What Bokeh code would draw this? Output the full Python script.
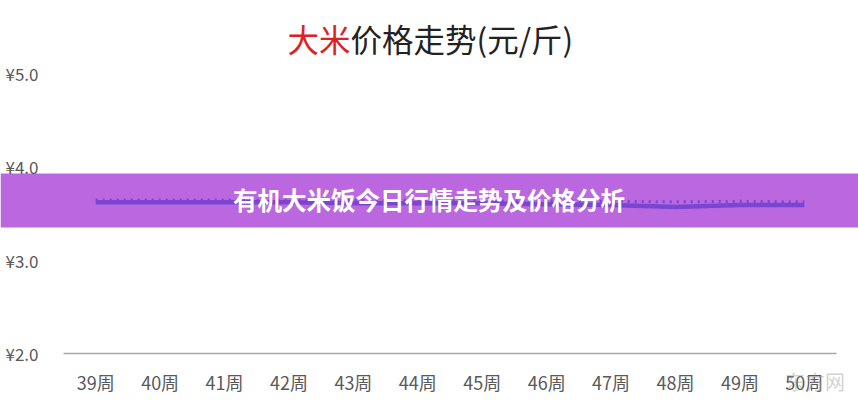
from bokeh.plotting import figure
from bokeh.models import Label, BoxAnnotation, ColumnDataSource, Range1d, FixedTicker
from bokeh.embed import file_html
from bokeh.resources import INLINE

weeks = ["39周", "40周", "41周", "42周", "43周", "44周", "45周", "46周", "47周", "48周", "49周", "50周"]
price_main = [3.62, 3.62, 3.62, 3.62, 3.61, 3.61, 3.61, 3.60, 3.59, 3.57, 3.59, 3.59]
price_dotted = [3.645, 3.645, 3.645, 3.64, 3.64, 3.64, 3.635, 3.635, 3.63, 3.625, 3.63, 3.625]
y_ticks = [2, 3, 4, 5]
y_tick_labels = ["¥2.0", "¥3.0", "¥4.0", "¥5.0"]
title_red = "大米"
title_black = "价格走势(元/斤)"
banner_text = "有机大米饭今日行情走势及价格分析"
watermark = "东方网"

FONT = "Noto Sans CJK SC"

# category positions: category i sits at the centre of slot i
xpos = [i + 0.5 for i in range(len(weeks))]

p = figure(frame_width=858, frame_height=400,
           x_range=Range1d(-0.978, 12.341), y_range=Range1d(1.4964, 5.782),
           output_backend="svg", toolbar_location=None,
           min_border_left=0, min_border_right=0, min_border_top=0, min_border_bottom=0)
p.outline_line_color = None
p.xgrid.grid_line_color = None
p.ygrid.grid_line_color = None
p.background_fill_color = "white"
p.border_fill_color = "white"

# x axis drawn at y = 2, restricted to the category span
p.xaxis.fixed_location = 2
p.xaxis.ticker = FixedTicker(ticks=xpos)
p.xaxis.major_label_overrides = {x: w for x, w in zip(xpos, weeks)}
p.xaxis.bounds = (0, len(weeks))
p.xaxis.axis_line_color = "#a6a6a6"
p.xaxis.axis_line_width = 1.5
p.xaxis.major_tick_line_color = None
p.xaxis.minor_tick_line_color = None
p.xaxis.major_tick_out = 0
p.xaxis.major_tick_in = 0
p.xaxis.minor_tick_out = 0
p.xaxis.major_label_standoff = 16
p.xaxis.major_label_text_font = FONT
p.xaxis.major_label_text_font_size = "18px"
p.xaxis.major_label_text_color = "#595959"

# y axis drawn left of the first category, labels only
p.yaxis.fixed_location = -0.31
p.yaxis.ticker = FixedTicker(ticks=y_ticks)
p.yaxis.major_label_overrides = {t: s for t, s in zip(y_ticks, y_tick_labels)}
p.yaxis.axis_line_color = None
p.yaxis.major_tick_line_color = None
p.yaxis.minor_tick_line_color = None
p.yaxis.major_tick_out = 0
p.yaxis.major_tick_in = 0
p.yaxis.minor_tick_out = 0
p.yaxis.major_label_standoff = 5
p.yaxis.major_label_text_font = FONT
p.yaxis.major_label_text_font_size = "17px"
p.yaxis.major_label_text_color = "#595959"

# banner
banner = BoxAnnotation(bottom=3.35, top=3.9286,
                       fill_color="#BB68E0", fill_alpha=1.0, line_alpha=0, level="underlay")
p.add_layout(banner)

src = ColumnDataSource(dict(x=xpos, a=price_main, b=price_dotted))
p.line("x", "a", source=src, line_color="#7A45D0", line_width=4.5)
p.line("x", "b", source=src, line_color="#7A45D0", line_width=3, line_dash="2 5")

# title
p.add_layout(Label(x=3.478, y=5.375, text=title_red, text_font=FONT, text_font_size="31.5px",
                   text_color="#E0201F", text_align="left", text_baseline="middle"))
p.add_layout(Label(x=4.455, y=5.375, text=title_black, text_font=FONT, text_font_size="31.5px",
                   text_color="#222222", text_align="left", text_baseline="middle"))

# banner text
p.add_layout(Label(x=5.674, y=3.65, text=banner_text, text_font=FONT, text_font_size="24.5px",
                   text_font_style="bold", text_color="white", text_align="center",
                   text_baseline="middle"))

# faint watermark
p.add_layout(Label(x=11.2, y=1.70, text=watermark, text_font=FONT, text_font_size="20px",
                   text_color="#9a9a9a", text_alpha=0.45, text_align="left",
                   text_baseline="middle"))

open("out.html", "w").write(file_html(p, INLINE))
